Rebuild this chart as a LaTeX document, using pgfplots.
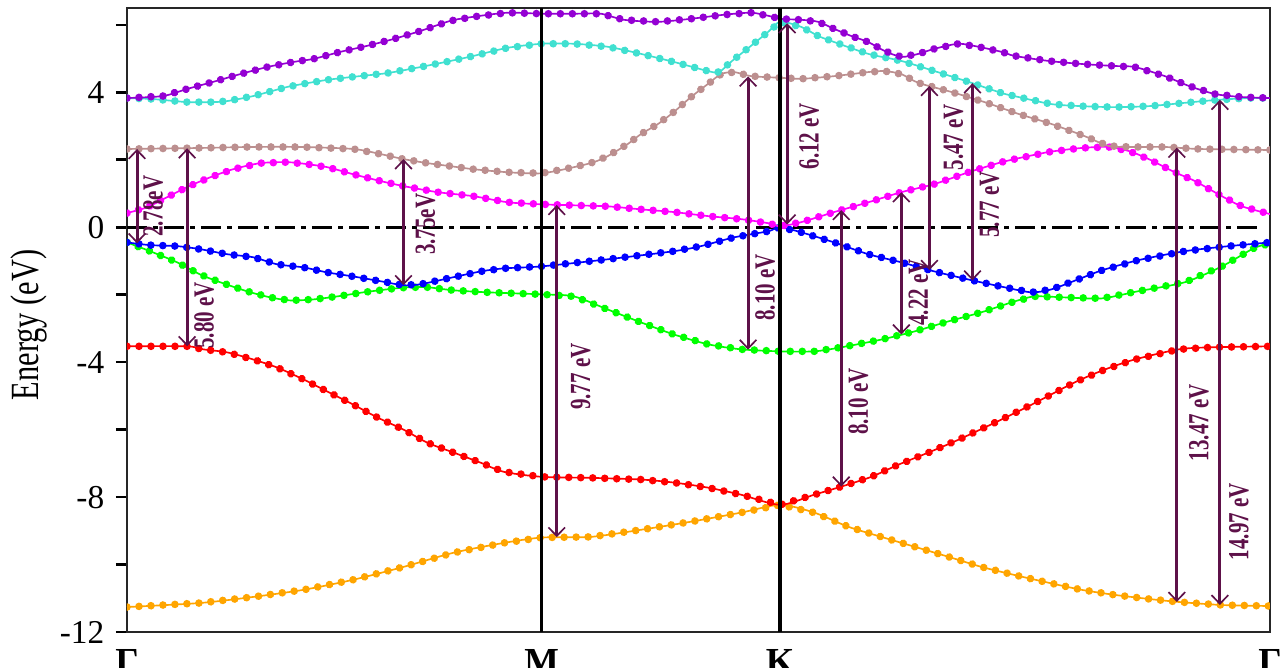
\documentclass[border=0pt]{standalone}
\usepackage{pgfplots}
\usepackage{pgfplotstable}
\pgfplotsset{compat=1.18}
\usepackage{fontspec}
\setmainfont{Liberation Serif}
\usetikzlibrary{decorations.markings,arrows.meta}

\definecolor{bandviolet}{RGB}{148,0,211}
\definecolor{bandturq}{RGB}{64,224,208}
\definecolor{bandrose}{RGB}{188,143,143}
\definecolor{bandmag}{RGB}{255,0,255}
\definecolor{bandblue}{RGB}{0,0,255}
\definecolor{bandgreen}{RGB}{0,255,0}
\definecolor{bandred}{RGB}{255,0,0}
\definecolor{bandorange}{RGB}{255,165,0}
\definecolor{gapcol}{RGB}{94,17,73}

% band line and the dense dots that run along it
\pgfplotsset{
  bandline/.style={color=#1, line width=0.5pt, smooth, tension=0.45, mark=none},
  banddots/.style={draw=none, sharp plot, mark=none,
    postaction={decorate},
    decoration={markings,
      mark=between positions 0 and 1 step 3.6pt with {\fill[#1] (0,0) circle (1.15pt);}}},
}

% vertical transition arrow with its energy label
\newcommand\gap[6]{%
  \draw[gapcol, line width=0.9pt,
    {Straight Barb[length=2.6pt,width=5pt,line width=0.5pt]}-{Straight Barb[length=2.6pt,width=5pt,line width=0.5pt]}]
    (axis cs:#1,#2) -- (axis cs:#1,#3);
  \node[gapcol, rotate=90, font=\fontsize{8.75}{10}\selectfont\bfseries, inner sep=0pt]
    at (axis cs:#4,#5) {\scalebox{0.72}[1]{#6}};}

% k-path position (Gamma=0, M=414, K=652, Gamma=1141) and energy in eV
\pgfplotstableread{
0 -11.26
73 -11.14
126 -10.96
176 -10.75
226 -10.45
276 -10.07
326 -9.65
376 -9.36
414 -9.20
463 -9.18
513 -8.97
563 -8.73
613 -8.46
652 -8.23
686 -8.46
720 -8.88
753 -9.18
786 -9.47
820 -9.77
853 -10.07
886 -10.31
920 -10.54
953 -10.75
986 -10.90
1020 -11.02
1050 -11.11
1093 -11.20
1141 -11.23
}\bandOrange

\pgfplotstableread{
0 -3.53
60 -3.53
76 -3.62
100 -3.71
126 -3.92
150 -4.16
176 -4.51
200 -4.87
226 -5.26
250 -5.64
276 -6.00
300 -6.39
326 -6.68
353 -6.98
376 -7.25
414 -7.40
463 -7.43
513 -7.48
546 -7.57
580 -7.72
613 -7.93
652 -8.23
686 -7.93
713 -7.69
743 -7.40
770 -7.04
800 -6.68
830 -6.30
873 -5.70
903 -5.26
946 -4.60
976 -4.22
1006 -3.92
1050 -3.62
1082 -3.56
1141 -3.53
}\bandRed

\pgfplotstableread{
0 -0.45
23 -0.71
50 -1.04
73 -1.40
93 -1.63
120 -1.90
143 -2.08
163 -2.17
186 -2.14
210 -2.05
236 -1.93
260 -1.84
280 -1.78
300 -1.78
326 -1.87
360 -1.93
414 -1.99
446 -2.05
480 -2.44
513 -2.82
546 -3.18
580 -3.47
613 -3.62
652 -3.68
686 -3.68
713 -3.56
753 -3.33
786 -3.09
820 -2.79
853 -2.52
886 -2.20
906 -2.05
936 -2.08
973 -2.11
1009 -1.90
1056 -1.63
1093 -1.16
1125 -0.62
1141 -0.48
}\bandGreen

\pgfplotstableread{
0 -0.45
23 -0.53
50 -0.56
73 -0.65
100 -0.80
126 -0.89
150 -1.10
176 -1.19
200 -1.34
226 -1.46
253 -1.60
276 -1.72
293 -1.69
326 -1.48
353 -1.31
376 -1.22
414 -1.16
480 -0.95
546 -0.71
573 -0.56
606 -0.30
640 -0.12
652 0.00
673 -0.15
706 -0.45
740 -0.80
773 -1.04
806 -1.31
843 -1.57
876 -1.78
903 -1.93
923 -1.84
950 -1.54
973 -1.28
1009 -0.98
1056 -0.71
1100 -0.56
1141 -0.45
}\bandBlue

\pgfplotstableread{
0 0.42
20 0.59
36 0.83
60 1.19
83 1.48
106 1.72
133 1.90
160 1.93
180 1.87
200 1.78
226 1.57
253 1.37
276 1.22
310 1.04
346 0.92
380 0.74
414 0.68
446 0.65
480 0.62
513 0.53
546 0.45
580 0.33
613 0.24
640 0.12
652 0.03
673 0.15
706 0.45
740 0.74
773 1.04
806 1.28
840 1.63
873 1.93
886 2.02
920 2.23
953 2.35
980 2.38
1000 2.26
1020 2.02
1046 1.63
1066 1.37
1093 0.92
1113 0.62
1141 0.39
}\bandMagenta

\pgfplotstableread{
0 2.32
73 2.35
123 2.38
173 2.38
226 2.32
253 2.17
276 2.02
300 1.90
323 1.81
346 1.72
380 1.63
414 1.60
446 1.78
466 1.93
480 2.11
500 2.47
513 2.76
530 3.06
546 3.42
563 3.86
580 4.25
593 4.54
606 4.60
623 4.48
653 4.43
673 4.40
706 4.48
740 4.60
756 4.63
773 4.54
790 4.28
823 4.01
856 3.71
890 3.36
923 3.06
956 2.70
980 2.41
1003 2.38
1036 2.38
1070 2.32
1141 2.29
}\bandRose

\pgfplotstableread{
0 3.83
26 3.80
60 3.71
86 3.71
100 3.74
126 3.89
160 4.16
176 4.25
200 4.37
226 4.46
260 4.57
293 4.75
323 4.93
346 5.08
380 5.32
414 5.44
446 5.44
480 5.35
513 5.14
546 4.90
580 4.63
591 4.60
604 4.93
623 5.38
640 5.79
652 6.09
673 5.94
690 5.67
706 5.49
740 5.14
773 4.93
806 4.63
840 4.31
873 3.98
890 3.86
923 3.65
953 3.59
986 3.56
1020 3.59
1053 3.68
1086 3.77
1120 3.83
1141 3.83
}\bandTurq

\pgfplotstableread{
0 3.83
36 3.89
60 4.10
86 4.31
113 4.54
140 4.75
166 4.90
186 4.99
213 5.20
240 5.38
266 5.58
293 5.82
323 6.12
346 6.24
380 6.36
414 6.33
446 6.33
473 6.33
496 6.15
530 6.09
563 6.18
596 6.30
623 6.36
640 6.27
652 6.18
673 6.15
690 6.09
706 5.88
723 5.67
740 5.49
756 5.23
773 5.05
790 5.14
806 5.29
830 5.44
850 5.35
873 5.20
886 5.08
920 4.93
953 4.84
986 4.78
1006 4.75
1036 4.48
1060 4.19
1086 3.95
1113 3.86
1141 3.83
}\bandViolet

\begin{document}
\begin{tikzpicture}
\begin{axis}[
  name=ax, scale only axis, width=342.9pt, height=187.2pt,
  disabledatascaling,
  xmin=0, xmax=1141, ymin=-12, ymax=6.5,
  axis line style={line width=0.6pt, black!85},
  xtick={0,414,652,1141}, xticklabels={Γ,M,K,Γ},
  x tick style={draw=none},
  xticklabel style={font=\fontsize{11}{12}\selectfont\bfseries, yshift=1.5pt},
  ytick={-12,-8,-4,0,4}, yticklabels={-12,-8,-4,0,4},
  minor ytick={-10,-6,-2,2,6},
  ytick pos=left, tick align=outside,
  major tick length=3.3pt, minor tick length=3.3pt,
  y tick style={line width=0.8pt, black},
  yticklabel style={font=\fontsize{10}{12}\selectfont},
]

% Fermi level
\draw[black, line width=0.8pt, dash pattern=on 6pt off 1.8pt on 1.5pt off 1.8pt]
  (axis cs:0,0) -- (axis cs:1131,0);

\addplot[bandline=bandorange] table {\bandOrange};
\addplot[banddots=bandorange] table {\bandOrange};
\addplot[bandline=bandred] table {\bandRed};
\addplot[banddots=bandred] table {\bandRed};
\addplot[bandline=bandgreen] table {\bandGreen};
\addplot[banddots=bandgreen] table {\bandGreen};
\addplot[bandline=bandblue] table {\bandBlue};
\addplot[banddots=bandblue] table {\bandBlue};
\addplot[bandline=bandmag] table {\bandMagenta};
\addplot[banddots=bandmag] table {\bandMagenta};
\addplot[bandline=bandrose] table {\bandRose};
\addplot[banddots=bandrose] table {\bandRose};
\addplot[bandline=bandturq] table {\bandTurq};
\addplot[banddots=bandturq] table {\bandTurq};
\addplot[bandline=bandviolet] table {\bandViolet};
\addplot[banddots=bandviolet] table {\bandViolet};

% high-symmetry points
\draw[black, line width=1pt] (axis cs:414,-12) -- (axis cs:414,6.5);
\draw[black, line width=1pt] (axis cs:652,-12) -- (axis cs:652,6.5);

% transitions
\gap{10}{-0.48}{2.32}{26}{0.62}{2.78eV}
\gap{60}{-3.53}{2.34}{77}{-2.61}{5.80 eV}
\gap{276}{-1.72}{2.02}{298}{0.09}{3.75eV}
\gap{429}{-9.19}{0.66}{453}{-4.43}{9.77 eV}
\gap{620}{-3.63}{4.47}{637}{-1.78}{8.10 eV}
\gap{659}{0.08}{6.05}{681}{2.70}{6.12 eV}
\gap{713}{-7.69}{0.51}{730}{-5.17}{8.10 eV}
\gap{773}{-3.18}{1.04}{790}{-1.93}{4.22 eV}
\gap{801}{-1.27}{4.19}{825}{2.67}{5.47 eV}
\gap{844}{-1.58}{4.27}{861}{0.68}{5.77 eV}
\gap{1048}{-11.11}{2.36}{1070}{-5.79}{13.47 eV}
\gap{1091}{-11.20}{3.78}{1110}{-8.73}{14.97 eV}

\end{axis}
\node[rotate=90, font=\fontsize{12}{14}\selectfont] at ([xshift=-29.4pt,yshift=-1.5pt]ax.west)
  {\scalebox{0.76}[1]{Energy (eV)}};
\pgfresetboundingbox
\path[use as bounding box] ([shift={(-38.1pt,-10.8pt)}]ax.south west)
  rectangle ([shift={(4.5pt,2.4pt)}]ax.north east);
\end{tikzpicture}
\end{document}
